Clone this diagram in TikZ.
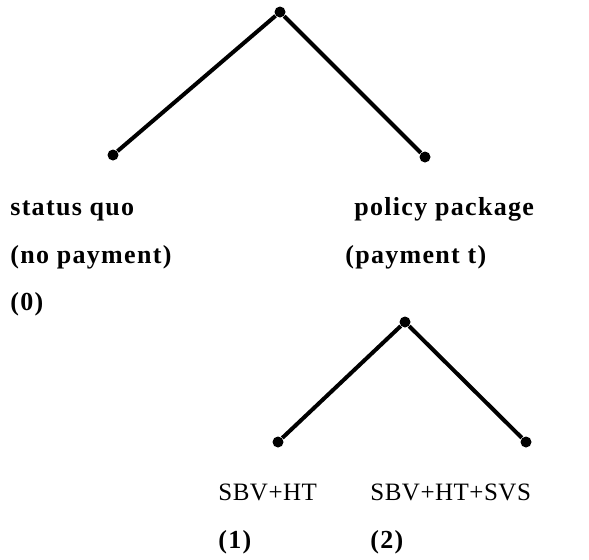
\documentclass[tikz,border=0pt]{standalone}
\usepackage{fontspec}
\setmainfont{Liberation Serif}[LetterSpace=5]
\newfontfamily\capsfont{Liberation Serif}[LetterSpace=2]
\begin{document}
\begin{tikzpicture}[x=0.5pt,y=-0.5pt]
	\tikzstyle{every node}+=[inner sep=0pt]
	\tikzstyle{dot}=[circle,fill=black,minimum size=5.5pt]
	\tikzstyle{branch}=[black,line width=2pt]
	\tikzstyle{txt}=[anchor=base west,font=\bfseries\fontsize{13}{16}\selectfont]
	\tikzstyle{captxt}=[anchor=base west,font=\capsfont\fontsize{12.5}{15}\selectfont]
	\useasboundingbox (0,0) rectangle (589,559);
	\node [dot] (top) at (280,12) {};
	\node [dot] (quo) at (113,155) {};
	\node [dot] (pkg) at (425,157) {};
	\node [dot] (sub) at (405,322) {};
	\node [dot] (one) at (278,442) {};
	\node [dot] (two) at (526,442) {};
	\draw [branch] (top) -- (quo);
	\draw [branch] (top) -- (pkg);
	\draw [branch] (sub) -- (one);
	\draw [branch] (sub) -- (two);
	\node [txt] (quoa) at (10,215) {status quo};
	\node [txt] (quob) at (10,263) {(no payment)};
	\node [txt] (quoc) at (10,310) {(0)};
	\node [txt] (pkga) at (354,215) {policy package};
	\node [txt] (pkgb) at (345,263) {(payment t)};
	\node [captxt] (onea) at (218,500) {SBV+HT};
	\node [txt] (oneb) at (218,548) {(1)};
	\node [captxt] (twoa) at (370,500) {SBV+HT+SVS};
	\node [txt] (twob) at (370,548) {(2)};
\end{tikzpicture}
\end{document}
